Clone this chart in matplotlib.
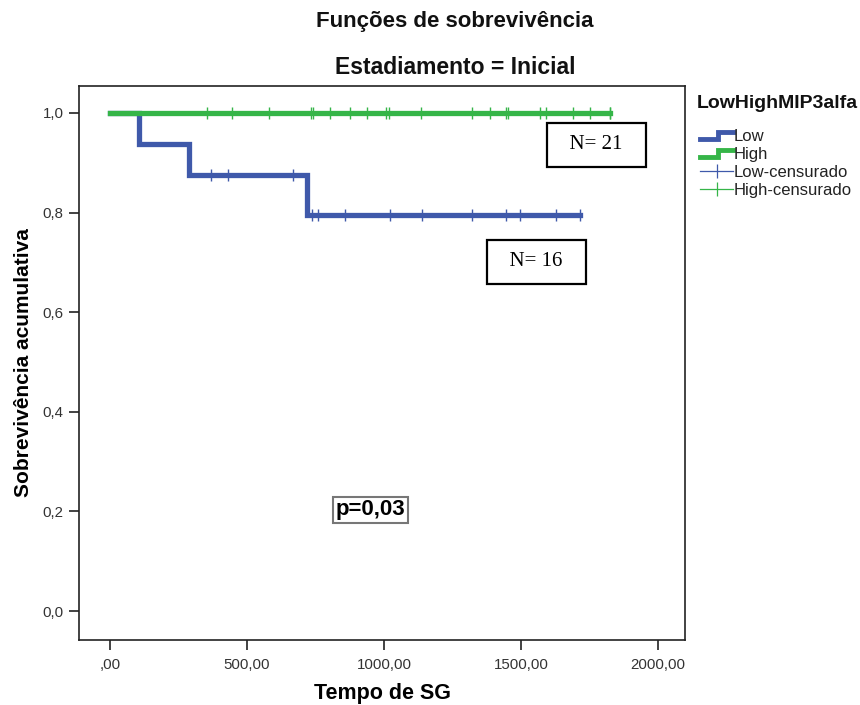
import numpy as np
import matplotlib
matplotlib.use("Agg")
import matplotlib.pyplot as plt
from matplotlib.lines import Line2D
from matplotlib.legend_handler import HandlerBase

plt.rcParams['font.family'] = ['Liberation Sans', 'DejaVu Sans']

# ---- data ----
low_event_times = [106, 290, 719]
low_censor_times = [368, 432, 668, 737, 759, 858, 1022, 1139, 1321, 1445, 1496, 1628, 1715]
high_event_times = []
high_censor_times = [354, 445, 580, 734, 741, 803, 876, 938, 1007, 1018, 1135, 1321,
                     1387, 1445, 1453, 1569, 1591, 1690, 1752, 1825, 1825]
x_ticks = [0, 500, 1000, 1500, 2000]
x_tick_labels = [",00", "500,00", "1000,00", "1500,00", "2000,00"]
y_ticks = [0.0, 0.2, 0.4, 0.6, 0.8, 1.0]
y_tick_labels = ["0,0", "0,2", "0,4", "0,6", "0,8", "1,0"]
group_labels = ["Low", "High"]
n_labels = ["N= 16", "N= 21"]
p_text = "p=0,03"

BLUE = "#3f59aa"
GREEN = "#35b548"


def km(events, censors):
    ev = [(t, 1) for t in events] + [(t, 0) for t in censors]
    ev.sort(key=lambda a: (a[0], -a[1]))
    n = len(ev)
    s = 1.0
    xs, ys = [0.0], [1.0]
    cx, cy = [], []
    for t, e in ev:
        if e:
            xs += [t, t]
            ys += [s, s * (n - 1) / n]
            s = s * (n - 1) / n
        else:
            cx.append(t)
            cy.append(s)
        n -= 1
    tmax = max(events + censors)
    xs.append(tmax)
    ys.append(s)
    return xs, ys, cx, cy


fig = plt.figure(figsize=(8.6, 7.05), dpi=100)
ax = fig.add_axes([79 / 860, 1 - 640 / 705, 606 / 860, 554 / 705])

for ev, ce, col in [(low_event_times, low_censor_times, BLUE),
                    (high_event_times, high_censor_times, GREEN)]:
    xs, ys, cx, cy = km(ev, ce)
    ax.plot(xs, ys, color=col, lw=3.8, solid_joinstyle='miter', zorder=3)
    ax.plot(cx, cy, ls='none', marker='|', ms=9, mew=1.0, color=col, zorder=4)

ax.set_xlim(-113, 2098)
ax.set_ylim(-0.058, 1.054)
ax.set_xticks(x_ticks)
ax.set_xticklabels(x_tick_labels)
ax.set_yticks(y_ticks)
ax.set_yticklabels(y_tick_labels)
ax.tick_params(direction='out', length=7, width=1.2, labelsize=10.8, colors='#222222',
               labelcolor='#333333', pad=4)
ax.tick_params(axis='x', pad=6)
for sp in ax.spines.values():
    sp.set_linewidth(1.2)
    sp.set_color('#222222')

ax.set_xlabel("Tempo de SG", fontsize=15.5, fontweight='bold', labelpad=8)
ax.set_ylabel("Sobrevivência acumulativa", fontsize=15, fontweight='bold', labelpad=7)

fig.text(455 / 860, 1 - 22 / 705, "Funções de sobrevivência", ha='center', va='center',
         fontsize=16, fontweight='bold', color='#111111')
fig.text(455 / 860, 1 - 67 / 705, "Estadiamento = Inicial", ha='center', va='center',
         fontsize=16.5, fontweight='bold', color='#111111')

# N boxes and p-value
box = dict(boxstyle='square,pad=0.6', fc='white', ec='black', lw=1.6)
ax.text(1774, 0.936, "  " + n_labels[1] + "  ", ha='center', va='center', fontsize=15,
        family='Liberation Serif', bbox=box, zorder=5)
ax.text(1555, 0.701, "  " + n_labels[0] + "  ", ha='center', va='center', fontsize=15,
        family='Liberation Serif', bbox=box, zorder=5)
ax.text(949, 0.203, p_text, ha='center', va='center', fontsize=16, fontweight='bold',
        bbox=dict(boxstyle='square,pad=0.12', fc='white', ec='#777777', lw=1.5), zorder=5)


class StepHandler(HandlerBase):
    def __init__(self, color):
        super().__init__()
        self.color = color

    def create_artists(self, legend, orig_handle, xdescent, ydescent, width, height,
                       fontsize, trans):
        x = [-xdescent, -xdescent + width * 0.55, -xdescent + width * 0.55,
             -xdescent + width]
        y = [height * 0.2, height * 0.2, height * 0.75, height * 0.75]
        ln = Line2D(x, y, color=self.color, lw=3.5, solid_joinstyle='miter', transform=trans)
        return [ln]


fig.text(697 / 860, 1 - 103 / 705, "LowHighMIP3alfa", ha='left', va='center',
         fontsize=14, fontweight='bold', color='#111111')

h_low = Line2D([], [], color=BLUE)
h_high = Line2D([], [], color=GREEN)
h_lowc = Line2D([], [], color=BLUE, lw=0.9, marker='|', ms=10, mew=0.9)
h_highc = Line2D([], [], color=GREEN, lw=0.9, marker='|', ms=10, mew=0.9)
leg = fig.legend([h_low, h_high, h_lowc, h_highc],
                 [group_labels[0], group_labels[1],
                  group_labels[0] + "-censurado", group_labels[1] + "-censurado"],
                 handler_map={h_low: StepHandler(BLUE), h_high: StepHandler(GREEN)},
                 loc='upper left', bbox_to_anchor=(700 / 860, 1 - 129 / 705),
                 frameon=False, fontsize=12, labelcolor='#222222',
                 handlelength=2.0, handletextpad=0.0, labelspacing=0.17,
                 borderaxespad=0, borderpad=0)

fig.savefig("out.png", dpi=100)
